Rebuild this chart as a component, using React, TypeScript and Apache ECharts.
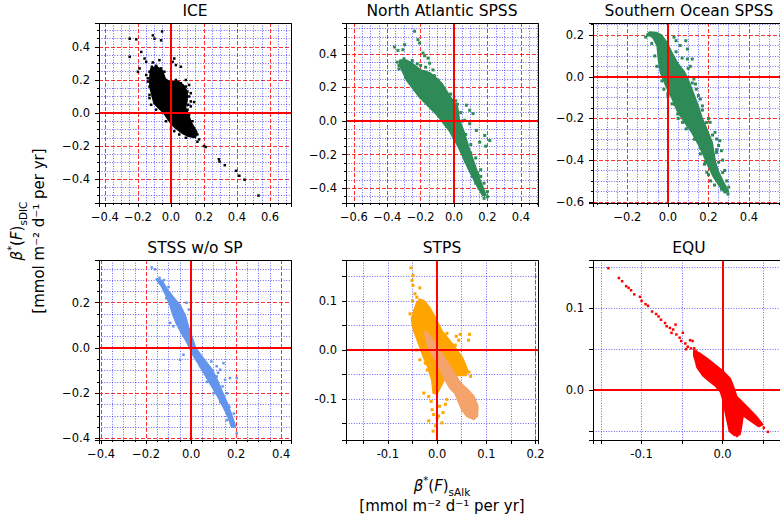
import React, { useEffect, useRef } from 'react';
import * as echarts from 'echarts';

const FONT = 'DejaVu Sans';

const panelTitles = ['ICE', 'North Atlantic SPSS', 'Southern Ocean SPSS', 'STSS w/o SP', 'STPS', 'EQU'];

// axis ranges (data units)
const xRanges = [[-0.436, 0.727], [-0.647, 0.503], [-0.37, 0.553], [-0.409, 0.444], [-0.185, 0.205], [-0.16, 0.071]];
const yRanges = [[-0.545, 0.545], [-0.488, 0.583], [-0.606, 0.258], [-0.407, 0.389], [-0.184, 0.184], [-0.061, 0.159]];
const labelSteps = [0.2, 0.2, 0.2, 0.2, 0.1, 0.1];
const gridStep = 0.05;
const stpsMajorX = [0.2];

// ---- ICE ----
const iceCore = [[-0.125,0.22],[-0.12,0.265],[-0.09,0.28],[-0.055,0.255],[-0.035,0.2],[0.0,0.185],[0.04,0.19],[0.075,0.165],[0.095,0.13],[0.095,0.08],[0.085,0.03],[0.1,0.0],[0.12,-0.06],[0.154,-0.114],[0.146,-0.146],[0.11,-0.14],[0.07,-0.12],[0.03,-0.09],[0.0,-0.06],[-0.02,-0.03],[-0.04,0.0],[-0.07,0.03],[-0.10,0.06],[-0.11,0.10],[-0.125,0.16]];
const icePoints = [[-0.116,0.28],[-0.09,0.286],[-0.06,0.27],[-0.04,0.25],[-0.12,0.24],[-0.14,0.21],[-0.11,0.19],[-0.13,0.16],[-0.07,0.21],[-0.03,0.2],[0.0,0.19],[0.03,0.2],[0.06,0.18],[0.09,0.16],[0.10,0.13],[0.09,0.10],[0.08,0.066],[0.05,0.06],[0.04,0.15],[0.02,0.12],[0.06,0.11],[0.12,0.07],[0.14,0.066],[0.01,0.31],[0.03,0.29],[0.06,0.28],[0.02,0.33],[-0.16,0.33],[-0.15,0.31],[-0.18,0.37],[-0.11,0.306],[-0.07,0.32],[-0.19,0.27],[-0.2,0.25],[-0.25,0.45],[-0.21,0.446],[-0.11,0.47],[-0.1,0.45],[-0.054,0.494],[-0.06,0.44],[-0.25,0.34],[-0.07,0.08],[-0.06,0.05],[0.17,-0.16],[0.16,-0.174],[0.2,-0.2],[0.21,-0.206],[0.29,-0.28],[0.294,-0.294],[0.326,-0.316],[0.394,-0.35],[0.414,-0.38],[0.446,-0.404],[0.53,-0.5],[-0.1,0.22],[-0.08,0.25],[-0.05,0.23],[-0.02,0.17],[0.01,0.16],[0.02,0.18],[0.05,0.16],[0.07,0.14],[0.08,0.12],[0.07,0.09],[0.04,0.08],[0.03,0.1],[-0.12,0.14],[-0.11,0.12],[-0.13,0.09],[-0.08,0.19],[-0.09,0.17],[-0.06,0.18],[-0.04,0.16],[0.1,0.02],[0.11,-0.01],[0.13,-0.05],[0.09,-0.15],[0.05,-0.13],[0.14,-0.12],[0.16,-0.13],[-0.03,-0.05],[0.0,-0.09],[0.02,-0.11],[0.12,0.04],[0.08,0.03],[0.06,0.02],[-0.12,0.05],[-0.09,0.02],[-0.13,0.11],[0.11,0.1],[0.12,0.12],[0.09,0.2],[-0.1,0.25],[-0.13,0.25],[-0.14,0.19],[-0.15,0.23],[0.11,0.17],[0.105,0.05]];

// ---- North Atlantic SPSS ----
const naCore = [[-0.322,0.36],[-0.29,0.36],[-0.256,0.344],[-0.2,0.3],[-0.146,0.284],[-0.076,0.224],[-0.026,0.144],[0.018,0.084],[0.03,0.004],[0.054,-0.056],[0.085,-0.156],[0.12,-0.256],[0.155,-0.356],[0.188,-0.44],[0.172,-0.44],[0.125,-0.356],[0.075,-0.256],[0.03,-0.156],[-0.026,-0.056],[-0.106,0.044],[-0.206,0.144],[-0.282,0.244],[-0.322,0.33]];
const naPoints = [[-0.236,0.534],[-0.216,0.484],[-0.206,0.464],[-0.186,0.404],[-0.176,0.388],[-0.156,0.374],[-0.146,0.344],[-0.126,0.304],[-0.116,0.264],[-0.096,0.244],[-0.076,0.204],[-0.356,0.44],[-0.336,0.42],[-0.296,0.454],[-0.306,0.424],[0.074,0.094],[0.094,0.064],[0.114,0.044],[0.064,0.004],[0.094,-0.016],[0.134,-0.056],[0.184,-0.086],[0.214,-0.116],[0.154,-0.126],[0.19,-0.15],[0.104,-0.236],[0.114,-0.256],[-0.026,-0.036],[0.0,0.1],[0.01,0.12],[0.04,0.05],[0.06,-0.1],[0.1,-0.19],[0.14,-0.31],[0.16,-0.33],[0.15,-0.4],[0.17,-0.41],[0.2,-0.45],[0.18,-0.46],[0.11,-0.33],[0.06,-0.2],[0.09,-0.28],[0.02,-0.12],[-0.33,0.33],[-0.3,0.37],[-0.25,0.36],[-0.2,0.33],[-0.17,0.29],[-0.13,0.25],[-0.06,0.18],[-0.04,0.12],[0.04,-0.06],[-0.17,0.32],[-0.22,0.34],[-0.34,0.35],[-0.33,0.31],[-0.29,0.26],[-0.25,0.22],[-0.2,0.17],[-0.15,0.12],[-0.1,0.06],[-0.06,0.02],[-0.04,-0.03],[0.0,-0.1],[0.04,-0.17],[0.07,-0.24],[0.1,-0.3],[0.13,-0.37],[-0.12,0.27],[-0.09,0.2],[-0.02,0.16],[0.02,0.1],[0.05,0.0],[0.07,-0.08],[0.1,-0.14],[0.13,-0.22],[0.16,-0.29],[0.18,-0.37],[0.2,-0.42]];

// ---- Southern Ocean SPSS ----
const soCore = [[-0.099,0.205],[-0.072,0.189],[-0.051,0.149],[-0.045,0.085],[-0.035,0.021],[-0.008,-0.043],[0.024,-0.107],[0.048,-0.163],[0.08,-0.211],[0.12,-0.267],[0.152,-0.323],[0.179,-0.379],[0.2,-0.427],[0.224,-0.475],[0.256,-0.523],[0.28,-0.555],[0.296,-0.55],[0.272,-0.507],[0.248,-0.459],[0.232,-0.411],[0.224,-0.363],[0.216,-0.315],[0.189,-0.251],[0.168,-0.203],[0.152,-0.155],[0.131,-0.099],[0.109,-0.043],[0.096,-0.011],[0.08,0.021],[0.048,0.061],[0.016,0.117],[-0.008,0.165],[-0.032,0.197],[-0.056,0.21],[-0.088,0.213]];
const soPoints = [[0.04,0.173],[0.088,0.173],[0.096,0.133],[0.12,0.085],[0.096,0.085],[0.128,-0.011],[0.136,-0.035],[0.16,-0.107],[0.032,-0.131],[0.048,-0.179],[0.072,-0.219],[0.208,-0.219],[0.232,-0.267],[0.24,-0.299],[0.256,-0.307],[0.264,-0.355],[0.24,-0.363],[0.184,-0.411],[0.192,-0.459],[0.296,-0.563],[0.264,-0.539],[0.06,0.15],[0.03,0.19],[-0.06,0.2],[-0.1,0.2],[0.11,0.05],[0.14,-0.06],[0.17,-0.14],[0.2,-0.2],[0.25,-0.33],[0.27,-0.4],[0.28,-0.45],[0.29,-0.5],[0.3,-0.53],[0.21,-0.5],[0.23,-0.52],[0.16,-0.34],[0.1,-0.24],[0.0,-0.09],[-0.02,-0.06],[-0.11,0.19],[-0.08,0.16],[-0.065,0.1],[-0.055,0.05],[-0.03,-0.02],[0.0,-0.08],[0.02,-0.13],[0.05,-0.2],[0.09,-0.25],[0.13,-0.3],[0.16,-0.37],[0.18,-0.42],[0.2,-0.47],[0.04,0.12],[0.07,0.09],[0.1,0.04],[0.12,-0.03],[0.15,-0.09],[0.17,-0.16],[0.19,-0.22],[0.22,-0.28],[0.24,-0.35],[0.25,-0.41],[0.27,-0.46]];

// ---- STSS w/o SP ----
const stssCore = [[-0.153,0.304],[-0.13,0.274],[-0.108,0.23],[-0.093,0.193],[-0.079,0.148],[-0.061,0.104],[-0.041,0.067],[-0.019,0.03],[-0.004,0],[0.01,-0.03],[0.033,-0.067],[0.055,-0.104],[0.077,-0.141],[0.099,-0.178],[0.121,-0.215],[0.144,-0.259],[0.166,-0.304],[0.181,-0.348],[0.196,-0.348],[0.181,-0.304],[0.159,-0.244],[0.136,-0.193],[0.114,-0.141],[0.092,-0.096],[0.062,-0.059],[0.04,-0.03],[0.018,0],[0.003,0.044],[-0.012,0.089],[-0.027,0.141],[-0.049,0.185],[-0.079,0.222],[-0.108,0.259],[-0.13,0.296]];
const stssPoints = [[-0.175,0.356],[-0.161,0.348],[-0.093,0.111],[-0.079,0.096],[-0.049,-0.052],[-0.034,-0.03],[0.114,-0.081],[0.129,-0.096],[0.144,-0.067],[0.114,-0.126],[0.151,-0.141],[0.173,-0.133],[0.203,-0.133],[0.159,-0.319],[0.203,-0.378],[-0.02,0.2],[-0.01,0.17],[0.07,-0.07],[0.09,-0.06],[0.12,-0.11],[0.14,-0.17],[0.16,-0.2],[0.17,-0.26],[0.19,-0.29],[0.18,-0.33],[-0.14,0.31],[-0.12,0.3],[-0.1,0.27],[-0.11,0.22],[-0.07,0.16],[-0.06,0.12],[0.0,0.03],[0.04,-0.08],[0.07,-0.15],[0.1,-0.2],[0.13,-0.24]];

// ---- STPS ----
const stpsCore = [[-0.035,0.103],[-0.027,0.1],[-0.017,0.088],[-0.007,0.071],[0.003,0.051],[0.01,0.037],[0.024,0.02],[0.037,0.003],[0.051,-0.017],[0.061,-0.041],[0.059,-0.051],[0.044,-0.051],[0.03,-0.051],[0.017,-0.054],[0.007,-0.074],[0,-0.088],[-0.007,-0.088],[-0.01,-0.061],[-0.017,-0.037],[-0.027,-0.014],[-0.037,0.014],[-0.047,0.041],[-0.051,0.064],[-0.046,0.081],[-0.041,0.095]];
const stpsInner = [[-0.024,0.037],[-0.014,0.027],[0,0.007],[0.017,-0.02],[0.034,-0.047],[0.047,-0.068],[0.061,-0.081],[0.074,-0.095],[0.082,-0.115],[0.081,-0.135],[0.074,-0.141],[0.061,-0.135],[0.051,-0.122],[0.044,-0.105],[0.037,-0.088],[0.027,-0.078],[0.017,-0.061],[0.007,-0.041],[-0.003,-0.02],[-0.014,0],[-0.022,0.02]];
const stpsPoints = [[-0.053,0.168],[-0.049,0.152],[-0.051,0.142],[-0.049,0.132],[-0.035,0.127],[-0.041,0.108],[-0.055,0.074],[-0.049,0.057],[0.02,0.034],[0.019,0.02],[0.039,0.028],[0.047,0.032],[0.044,0.02],[0.066,0.032],[0.064,0.02],[0.037,0.01],[0.068,-0.054],[-0.024,-0.027],[-0.02,-0.041],[-0.027,-0.088],[-0.017,-0.095],[-0.01,-0.122],[-0.007,-0.132],[0,-0.139],[0.01,-0.149],[-0.008,-0.166],[0.003,-0.135],[0.017,-0.111],[0.02,-0.101],[-0.017,-0.145],[-0.05,0.1],[-0.045,0.115],[-0.012,-0.105],[0.005,-0.115],[-0.003,-0.155],[0.012,-0.128],[0.065,-0.045],[-0.042,0.0],[-0.035,-0.02]];

// ---- EQU ----
const equCore = [[-0.035,0.048],[-0.029,0.045],[-0.019,0.038],[-0.009,0.03],[0.001,0.022],[0.009,0.014],[0.013,0.004],[0.017,-0.008],[0.029,-0.02],[0.041,-0.032],[0.049,-0.042],[0.045,-0.044],[0.033,-0.036],[0.025,-0.03],[0.023,-0.044],[0.021,-0.054],[0.015,-0.055],[0.009,-0.05],[0.005,-0.032],[0.001,-0.012],[-0.002,-0.002],[-0.009,0.006],[-0.017,0.012],[-0.024,0.018],[-0.031,0.028],[-0.033,0.036],[-0.035,0.042]];
const equPoints = [[-0.141,0.149],[-0.128,0.137],[-0.124,0.133],[-0.119,0.127],[-0.116,0.125],[-0.113,0.122],[-0.109,0.117],[-0.102,0.114],[-0.1,0.109],[-0.095,0.105],[-0.092,0.103],[-0.087,0.096],[-0.082,0.093],[-0.079,0.09],[-0.076,0.086],[-0.071,0.082],[-0.069,0.078],[-0.065,0.076],[-0.061,0.074],[-0.058,0.08],[-0.063,0.07],[-0.057,0.068],[-0.053,0.064],[-0.049,0.07],[-0.051,0.06],[-0.046,0.057],[-0.04,0.061],[-0.037,0.06],[-0.043,0.053],[-0.045,0.05],[-0.039,0.051],[-0.035,0.051],[-0.033,0.048],[0.051,-0.046],[0.056,-0.051],[0.018,-0.056],[0.038,-0.036],[0.043,-0.04]];

const GRID_LEFTS = [99, 346, 593];
const GRID_TOPS = [23, 260];
const GW = 192;
const GH = 180;

const RED_DASH = 'rgba(255,0,0,0.8)';
const BLUE_DOT = 'rgba(0,0,255,0.6)';

function fmt(unicodeMinus: boolean) {
  return (v: number) => {
    let s = Math.abs(v) < 1e-9 ? '0.0' : v.toFixed(1);
    if (s === '-0.0') s = '0.0';
    return unicodeMinus ? s.replace('-', '\u2212') : s;
  };
}

function axis(i: number, dim: 'x' | 'y') {
  const range = dim === 'x' ? xRanges[i] : yRanges[i];
  const step = labelSteps[i];
  const big = step > 0.15;
  const minorSplit = Math.round(step / gridStep);
  return {
    type: 'value',
    gridIndex: i,
    min: range[0],
    max: range[1],
    minInterval: step,
    maxInterval: step,
    splitNumber: 5,
    axisLine: { show: false, onZero: false },
    axisTick: { show: true, inside: false, length: 4, lineStyle: { color: '#000', width: 1 } },
    minorTick: { show: true, splitNumber: minorSplit, length: big ? 2 : 4, lineStyle: { color: '#000', width: 1 } },
    axisLabel: {
      show: true,
      formatter: fmt(big),
      fontFamily: FONT,
      fontSize: 11.5,
      color: '#000',
      margin: dim === 'x' ? 8 : 9,
      showMinLabel: false,
      showMaxLabel: false,
    },
    splitLine: {
      show: true,
      lineStyle: big ? { color: RED_DASH, type: [4, 2], width: 1 } : { color: BLUE_DOT, type: [1, 1.6], width: 1 },
    },
    minorSplitLine: { show: true, lineStyle: { color: BLUE_DOT, type: [1, 1.6], width: 1 } },
  };
}

function polySeries(idx: number, poly: number[][], color: string, z: number) {
  return {
    type: 'custom',
    xAxisIndex: idx,
    yAxisIndex: idx,
    data: poly,
    dimensions: ['x', 'y'],
    encode: { x: 0, y: 1 },
    clip: true,
    silent: true,
    z,
    renderItem: (params: any, api: any) => {
      if (params.dataIndex !== 0) return null;
      const points = poly.map((p) => api.coord(p));
      return {
        type: 'polygon',
        shape: { points },
        style: { fill: color, stroke: color, lineWidth: 2.5, lineJoin: 'round' },
      };
    },
  };
}

function scatterSeries(idx: number, pts: number[][], color: string, size: number, z: number) {
  return {
    type: 'scatter',
    xAxisIndex: idx,
    yAxisIndex: idx,
    data: pts,
    symbol: 'rect',
    symbolSize: size,
    itemStyle: { color, opacity: 1 },
    silent: true,
    z,
  };
}

function zeroLines(idx: number) {
  const data: any[] = [{ xAxis: 0 }, { yAxis: 0 }];
  if (idx === 4) {
    stpsMajorX.forEach((v) => data.push({ xAxis: v, lineStyle: { color: RED_DASH, type: [4, 2], width: 1 } }));
  }
  return {
    type: 'scatter',
    xAxisIndex: idx,
    yAxisIndex: idx,
    data: [],
    silent: true,
    z: 10,
    markLine: {
      silent: true,
      symbol: ['none', 'none'],
      label: { show: false },
      lineStyle: { color: '#ff0000', width: 2, type: 'solid' },
      data,
      animation: false,
    },
  };
}

const richMain = {
  i: { fontFamily: FONT, fontStyle: 'italic', fontSize: 15, lineHeight: 22, verticalAlign: 'middle', fill: '#000' },
  n: { fontFamily: FONT, fontSize: 15, lineHeight: 22, verticalAlign: 'middle', fill: '#000' },
  s: { fontFamily: FONT, fontSize: 10, lineHeight: 11, verticalAlign: 'top', fill: '#000' },
  b: { fontFamily: FONT, fontSize: 10.5, lineHeight: 10, verticalAlign: 'bottom', fill: '#000' },
};

export default function App() {
  const ref = useRef<HTMLDivElement>(null);
  useEffect(() => {
    if (!ref.current) return;
    const chart = echarts.init(ref.current, null, { renderer: 'svg' });
    const grids: any[] = [];
    const xAxes: any[] = [];
    const yAxes: any[] = [];
    const graphics: any[] = [];
    for (let i = 0; i < 6; i++) {
      const L = GRID_LEFTS[i % 3];
      const T = GRID_TOPS[Math.floor(i / 3)];
      grids.push({ left: L, top: T, width: GW, height: GH, containLabel: false, show: false });
      xAxes.push(axis(i, 'x'));
      yAxes.push(axis(i, 'y'));
      graphics.push({
        type: 'rect',
        z: 100,
        silent: true,
        shape: { x: L + 0.5, y: T + 0.5, width: GW, height: GH },
        style: { fill: 'none', stroke: '#000', lineWidth: 1 },
      });
      graphics.push({
        type: 'text',
        z: 100,
        x: L + GW / 2,
        y: i < 3 ? 11 : 248,
        style: { text: panelTitles[i], fontFamily: FONT, fontSize: 15.5, fill: '#000', align: 'center', verticalAlign: 'middle' },
      });
    }
    graphics.push({
      type: 'text', z: 100, x: 17, y: 231, rotation: Math.PI / 2,
      style: { text: '{i|β}{s|*}{n|(}{i|F}{n|)}{b|sDIC}', rich: richMain, align: 'center', verticalAlign: 'middle' },
    });
    graphics.push({
      type: 'text', z: 100, x: 39, y: 231, rotation: Math.PI / 2,
      style: { text: '[mmol m\u207B\u00B2 d\u207B\u00B9 per yr]', fontFamily: FONT, fontSize: 15, fill: '#000', align: 'center', verticalAlign: 'middle' },
    });
    graphics.push({
      type: 'text', z: 100, x: 442, y: 486,
      style: { text: '{i|β}{s|*}{n|(}{i|F}{n|)}{b|sAlk}', rich: richMain, align: 'center', verticalAlign: 'middle' },
    });
    graphics.push({
      type: 'text', z: 100, x: 442, y: 506,
      style: { text: '[mmol m\u207B\u00B2 d\u207B\u00B9 per yr]', fontFamily: FONT, fontSize: 15, fill: '#000', align: 'center', verticalAlign: 'middle' },
    });

    const series: any[] = [
      polySeries(0, iceCore, '#000000', 2), scatterSeries(0, icePoints, '#000000', 2.5, 3), zeroLines(0),
      polySeries(1, naCore, '#2e8b57', 2), scatterSeries(1, naPoints, '#2e8b57', 3, 3), zeroLines(1),
      polySeries(2, soCore, '#2e8b57', 2), scatterSeries(2, soPoints, '#2e8b57', 3, 3), zeroLines(2),
      polySeries(3, stssCore, '#6495ed', 2), scatterSeries(3, stssPoints, '#6495ed', 2.5, 3), zeroLines(3),
      polySeries(4, stpsCore, '#ffa500', 2), scatterSeries(4, stpsPoints, '#ffa500', 3, 3), polySeries(4, stpsInner, '#f4a46a', 4), zeroLines(4),
      polySeries(5, equCore, '#ff0000', 2), scatterSeries(5, equPoints, '#ff0000', 2.5, 3), zeroLines(5),
    ];

    chart.setOption({
      animation: false,
      backgroundColor: '#ffffff',
      grid: grids,
      xAxis: xAxes,
      yAxis: yAxes,
      series,
      graphic: graphics,
    });
    return () => chart.dispose();
  }, []);
  return <div ref={ref} style={{ position: 'absolute', left: 0, top: 0, width: 780, height: 523 }} />;
}
